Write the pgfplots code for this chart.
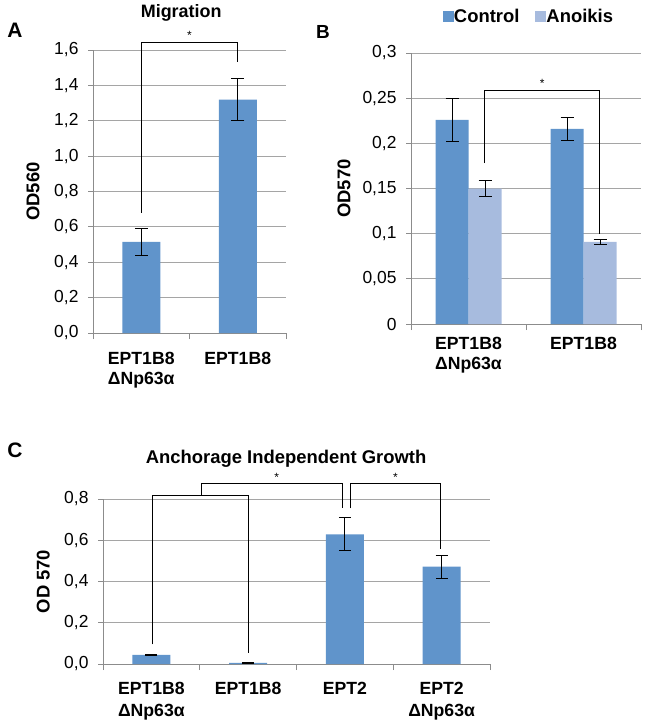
\documentclass[border=0pt]{standalone}
\usepackage{fontspec}
\setmainfont{Liberation Sans}
\usepackage{pgfplots}
\pgfplotsset{compat=1.18}
\definecolor{cctrl}{RGB}{96,148,203}
\definecolor{canoi}{RGB}{167,187,222}
\definecolor{gridgray}{RGB}{165,165,165}
\definecolor{axgray}{RGB}{140,140,140}
\pgfplotsset{
  excel/.style={
    scale only axis, clip=false,
    axis x line*=bottom, axis y line*=left,
    axis line style={draw=axgray, line width=0.9bp},
    ymajorgrids, grid style={draw=gridgray, line width=0.9bp},
    tick align=outside,
    major tick length=5bp, minor tick length=6bp,
    major x tick style={draw=none},
    minor x tick style={draw=axgray, line width=0.9bp},
    ytick style={draw=axgray, line width=0.9bp},
    /pgf/number format/assume math mode=true,
    ybar,
    error bars/y dir=both, error bars/y explicit,
    error bars/error bar style={draw=black, line width=1bp},
    error bars/error mark options={draw=black, line width=1bp, mark size=6.5bp, rotate=90},
    xticklabel style={align=center},
    every axis title shift=0pt,
  }
}
\begin{document}
\begin{tikzpicture}
\path[use as bounding box] (0bp,0bp) rectangle (647bp,-725bp);

% ---------------- Panel A ----------------
\begin{axis}[excel,
  at={(93bp,-333bp)}, anchor=south west, width=193bp, height=283bp,
  xmin=-0.5, xmax=1.5, ymin=0, ymax=1.6,
  ytick={0,0.2,0.4,0.6,0.8,1.0,1.2,1.4,1.6},
  yticklabel style={font=\fontsize{17.5}{17.5}\selectfont, xshift=-6bp,
    /pgf/number format/.cd, fixed, fixed zerofill, precision=1, use comma},
  xtick={0,1}, minor xtick={-0.5,0.5,1.5},
  xticklabels={{EPT1B8\\ΔNp63α},{EPT1B8}},
  xticklabel style={font=\bfseries\fontsize{17.7}{19.5}\selectfont, yshift=-11bp},
  bar width=38bp,
  ylabel={OD560},
  ylabel style={at={(axis description cs:-0.311,0.5)}, anchor=center, font=\bfseries\fontsize{18.5}{18.5}\selectfont},
  title={Migration},
  title style={at={(axis description cs:0.457,1.131)}, anchor=center, font=\bfseries\fontsize{18}{18}\selectfont},
]
\addplot[fill=cctrl, draw=none] coordinates {(0,0.515) +- (0,0.075) (1,1.32) +- (0,0.12)};
\draw[black, line width=0.9bp] (axis cs:0,0.68) -- (axis cs:0,1.64) -- (axis cs:1,1.64) -- (axis cs:1,1.53);
\node[font=\fontsize{12}{12}\selectfont] at (axis cs:0.5,1.68) {*};
\end{axis}

% ---------------- Panel B ----------------
\begin{axis}[excel,
  at={(411bp,-324bp)}, anchor=south west, width=230bp, height=271bp,
  xmin=-0.5, xmax=1.5, ymin=0, ymax=0.3,
  ytick={0,0.05,0.1,0.15,0.2,0.25,0.3},
  yticklabel style={font=\fontsize{17.5}{17.5}\selectfont, xshift=-6bp,
    /pgf/number format/.cd, fixed, precision=2, use comma},
  xtick={0,1}, minor xtick={-0.5,0.5,1.5},
  xticklabels={{EPT1B8\\ΔNp63α},{EPT1B8}},
  xticklabel style={font=\bfseries\fontsize{17.7}{19.5}\selectfont, yshift=-5bp},
  ybar=0pt, bar width=33bp,
  ylabel={OD570},
  ylabel style={at={(axis description cs:-0.291,0.5)}, anchor=center, font=\bfseries\fontsize{18.5}{18.5}\selectfont},
  legend columns=2,
  legend style={draw=none, fill=none, at={(axis description cs:0.513,1.133)}, anchor=center,
    font=\bfseries\fontsize{18.5}{18.5}\selectfont,
    /tikz/every odd column/.append style={column sep=-2bp},
    /tikz/every even column/.append style={column sep=14bp}},
  legend image code/.code={\fill[#1] (0bp,-5.5bp) rectangle (11bp,5.5bp);},
]
\addplot[fill=cctrl, draw=none] coordinates {(0,0.226) +- (0,0.024) (1,0.216) +- (0,0.013)};
\addplot[fill=canoi, draw=none] coordinates {(0,0.150) +- (0,0.0085) (1,0.091) +- (0,0.003)};
\legend{Control,Anoikis}
\draw[black, line width=0.9bp] (axis cs:0.143,0.178) -- (axis cs:0.143,0.258) -- (axis cs:1.14,0.258) -- (axis cs:1.14,0.1);
\node[font=\fontsize{12}{12}\selectfont] at (axis cs:0.64,0.266) {*};
\end{axis}

% ---------------- Panel C ----------------
\begin{axis}[excel,
  at={(103bp,-664bp)}, anchor=south west, width=387bp, height=165bp,
  xmin=-0.5, xmax=3.5, ymin=0, ymax=0.8,
  ytick={0,0.2,0.4,0.6,0.8},
  yticklabel style={font=\fontsize{17.5}{17.5}\selectfont, xshift=-6bp,
    /pgf/number format/.cd, fixed, fixed zerofill, precision=1, use comma},
  xtick={0,1,2,3}, minor xtick={-0.5,0.5,1.5,2.5,3.5},
  xticklabels={{EPT1B8\\ΔNp63α},{EPT1B8},{EPT2},{EPT2\\ΔNp63α}},
  xticklabel style={font=\bfseries\fontsize{17.7}{21.5}\selectfont, yshift=-10bp},
  bar width=38bp,
  error bars/error mark options={draw=black, line width=1bp, mark size=6bp, rotate=90},
  ylabel={OD 570},
  ylabel style={at={(axis description cs:-0.154,0.5)}, anchor=center, font=\bfseries\fontsize{18.5}{18.5}\selectfont},
  title={Anchorage Independent Growth},
  title style={at={(axis description cs:0.473,1.242)}, anchor=center, font=\bfseries\fontsize{18.5}{18.5}\selectfont},
]
\addplot[fill=cctrl, draw=none] coordinates {(0,0.044) +- (0,0.004) (1,0.005) +- (0,0.003) (2,0.629) +- (0,0.079) (3,0.472) +- (0,0.056)};
\draw[black, line width=1.3bp] (axis cs:0.011,0.095) -- (axis cs:0.011,0.816) -- (axis cs:1.007,0.816) -- (axis cs:1.007,0.052);
\draw[black, line width=1bp] (axis cs:0.519,0.816) -- (axis cs:0.519,0.876) -- (axis cs:1.977,0.876) -- (axis cs:1.977,0.755);
\draw[black, line width=1bp] (axis cs:2.053,0.755) -- (axis cs:2.053,0.876) -- (axis cs:2.986,0.876) -- (axis cs:2.986,0.556);
\node[font=\fontsize{12}{12}\selectfont] at (axis cs:1.296,0.907) {*};
\node[font=\fontsize{12}{12}\selectfont] at (axis cs:2.524,0.907) {*};
\end{axis}

\node[font=\bfseries\fontsize{21}{21}\selectfont] at (15bp,-30bp) {A};
\node[font=\bfseries\fontsize{19}{19}\selectfont] at (323bp,-32bp) {B};
\node[font=\bfseries\fontsize{21}{21}\selectfont] at (15bp,-450bp) {C};
\end{tikzpicture}
\end{document}
